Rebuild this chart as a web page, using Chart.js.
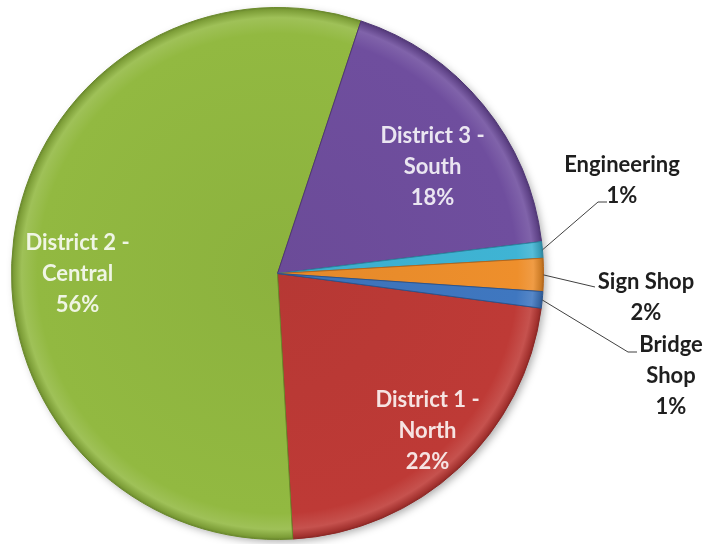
<!DOCTYPE html>
<html>
<head>
<meta charset="utf-8">
<script src="https://cdn.jsdelivr.net/npm/chart.js@4.4.0/dist/chart.umd.min.js"></script>
<style>
  html, body { margin: 0; padding: 0; background: #fff; }
  #wrap { width: 711px; height: 544px; }
</style>
</head>
<body>
<div id="wrap"><canvas id="pieChart" width="711" height="544"></canvas></div>
<script>
const categories = [
    ['District 1 -', 'North'],
    ['District 2 -', 'Central'],
    ['District 3 -', 'South'],
    ['Engineering'],
    ['Sign Shop'],
    ['Bridge', 'Shop']
];
const shares = [22, 56, 18, 1, 2, 1];
const sliceColors = ['#BE3A36', '#92B941', '#6F4E9E', '#3FB4D4', '#EE8F2C', '#3F77C0'];
const edgeColors = ['#8E2624', '#6A8A2A', '#4F3576', '#2A86A0', '#B8661A', '#2A5590'];

// where each label goes: inside ones are offsets from the pie centre,
// outside ones get a leader line from the slice edge to an elbow
const labelLayout = [
    { inside: true, dx: 150, dy: 157 },
    { inside: true, dx: -200, dy: 0 },
    { inside: true, dx: 155, dy: -107 },
    { inside: false, x: 622, y: 165, elbow: [598, 202], end: [607, 202] },
    { inside: false, x: 646, y: 282, elbow: [595, 287], end: [595, 287] },
    { inside: false, x: 671, y: 345, elbow: [628, 352], end: [637, 352] }
];

const FONT = 'bold 22px Lato, "Open Sans", sans-serif';
const LINE_H = 31;

function shade(hex, amt) {
    const n = parseInt(hex.slice(1), 16);
    let r = (n >> 16) & 255, g = (n >> 8) & 255, b = n & 255;
    const f = c => Math.max(0, Math.min(255, Math.round(amt > 0 ? c + (255 - c) * amt : c * (1 + amt))));
    return 'rgb(' + f(r) + ',' + f(g) + ',' + f(b) + ')';
}

// radial fill with a light rim near the edge, like a soft bevel
function sliceFill(context) {
    const base = sliceColors[context.dataIndex];
    const chart = context.chart;
    const area = chart.chartArea;
    if (!area) return base;
    const cx = (area.left + area.right) / 2;
    const cy = (area.top + area.bottom) / 2;
    const r = Math.min(area.right - area.left, area.bottom - area.top) / 2;
    const g = chart.ctx.createRadialGradient(cx, cy, 0, cx, cy, r);
    g.addColorStop(0, shade(base, -0.04));
    g.addColorStop(0.9, base);
    g.addColorStop(0.96, shade(base, 0.12));
    g.addColorStop(0.99, shade(base, -0.15));
    g.addColorStop(1, shade(base, -0.3));
    return g;
}

const pieShadow = {
    id: 'pieShadow',
    beforeDatasetsDraw(chart) {
        const arc = chart.getDatasetMeta(0).data[0];
        if (!arc) return;
        const ctx = chart.ctx;
        ctx.save();
        ctx.shadowColor = 'rgba(0,0,0,0.35)';
        ctx.shadowBlur = 8;
        ctx.shadowOffsetX = 3;
        ctx.shadowOffsetY = 3;
        ctx.fillStyle = '#888';
        ctx.beginPath();
        ctx.arc(arc.x, arc.y, arc.outerRadius - 1, 0, Math.PI * 2);
        ctx.fill();
        ctx.restore();
    }
};

const sliceLabels = {
    id: 'sliceLabels',
    afterDatasetsDraw(chart) {
        const ctx = chart.ctx;
        const arcs = chart.getDatasetMeta(0).data;
        ctx.save();
        ctx.font = FONT;
        ctx.textAlign = 'center';
        ctx.textBaseline = 'middle';
        arcs.forEach((arc, i) => {
            const lay = labelLayout[i];
            const lines = categories[i].concat([shares[i] + '%']);
            let x, y;
            if (lay.inside) {
                x = arc.x + lay.dx;
                y = arc.y + lay.dy - (lines.length - 1) * LINE_H / 2;
                ctx.fillStyle = 'rgba(255,255,255,0.86)';
            } else {
                const mid = (arc.startAngle + arc.endAngle) / 2;
                const sx = arc.x + Math.cos(mid) * arc.outerRadius;
                const sy = arc.y + Math.sin(mid) * arc.outerRadius;
                ctx.strokeStyle = '#404040';
                ctx.lineWidth = 1;
                ctx.beginPath();
                ctx.moveTo(sx, sy);
                ctx.lineTo(lay.elbow[0], lay.elbow[1]);
                ctx.lineTo(lay.end[0], lay.end[1]);
                ctx.stroke();
                x = lay.x;
                y = lay.y;
                ctx.fillStyle = '#1e1e1e';
            }
            lines.forEach((t, k) => ctx.fillText(t, x, y + k * LINE_H));
        });
        ctx.restore();
    }
};

new Chart(document.getElementById('pieChart').getContext('2d'), {
    type: 'pie',
    data: {
        labels: categories,
        datasets: [{
            data: shares,
            backgroundColor: sliceFill,
            borderColor: edgeColors,
            borderWidth: 1
        }]
    },
    options: {
        responsive: false,
        animation: false,
        rotation: 97.5,
        layout: { padding: { left: 11, right: 167, top: 7, bottom: 4 } },
        plugins: {
            legend: { display: false },
            tooltip: { enabled: false },
            title: { display: false }
        }
    },
    plugins: [pieShadow, sliceLabels]
});
</script>
</body>
</html>
